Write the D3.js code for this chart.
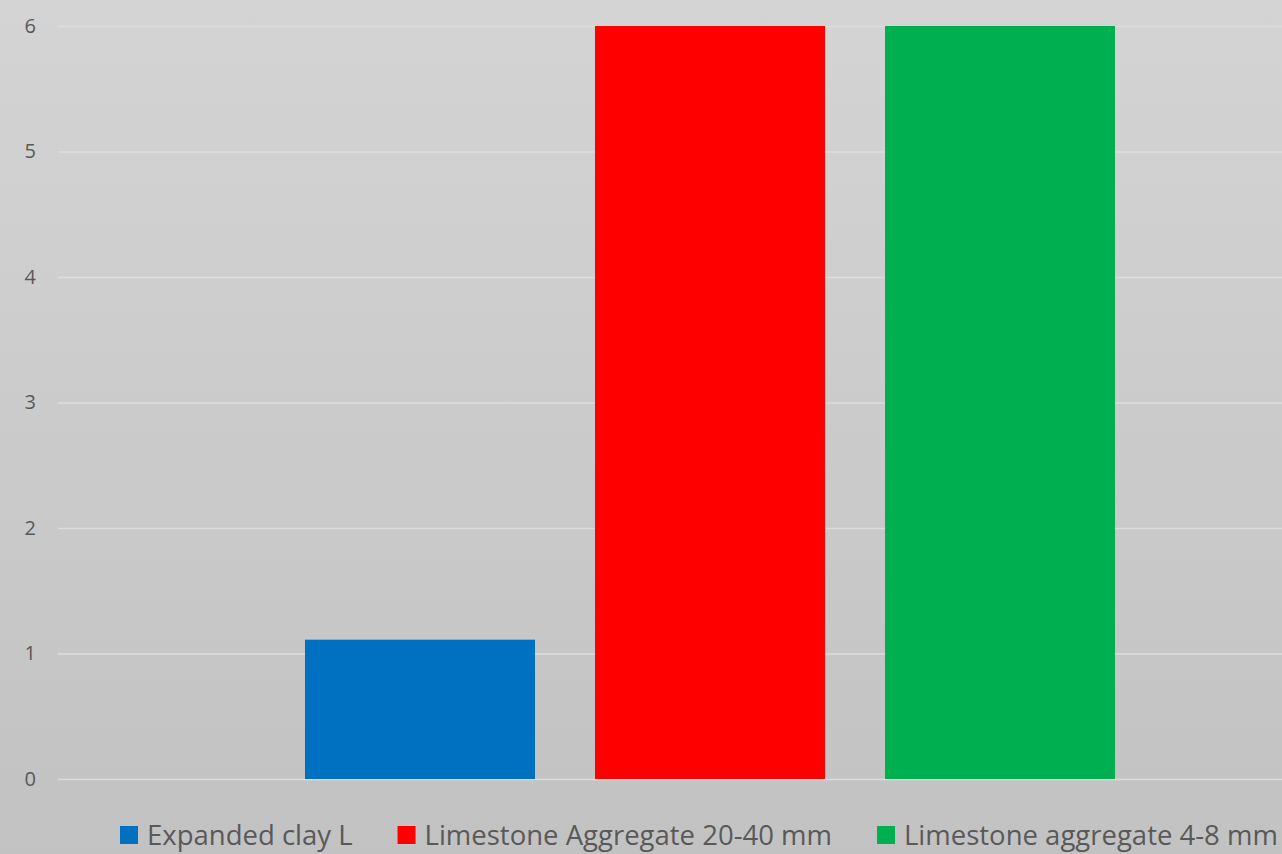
<!DOCTYPE html>
<html>
<head>
    <title>Aggregate bar chart</title>
    <script src="https://cdnjs.cloudflare.com/ajax/libs/d3/7.8.5/d3.min.js"></script>
    <style>
        body { margin: 0; }
        .tick text { font-family: 'Open Sans', sans-serif; }
    </style>
</head>
<body>
    <div id="chart"></div>
    <script>
        // data
        var categories = ["Sample"];
        var seriesNames = ["Expanded clay L", "Limestone Aggregate 20-40 mm", "Limestone aggregate 4-8 mm"];
        var seriesValues = [1.11, 6, 6];
        var seriesColors = ["#0070c0", "#ff0000", "#00b050"];
        var yTicks = [0, 1, 2, 3, 4, 5, 6];

        var W = 1282, H = 854;
        // plot runs past the right edge, like the cropped original
        var plot = { left: 58, right: 1362, top: 26, bottom: 779 };

        var svg = d3.select("#chart").append("svg")
            .attr("width", W)
            .attr("height", H);

        //------------------------------ background ------------------------------
        var grad = svg.append("defs").append("linearGradient")
            .attr("id", "bg").attr("x1", 0).attr("y1", 0).attr("x2", 0).attr("y2", 1);
        grad.append("stop").attr("offset", "0%").attr("stop-color", "#d4d4d4");
        grad.append("stop").attr("offset", "100%").attr("stop-color", "#c3c2c3");
        svg.append("rect").attr("width", W).attr("height", H).attr("fill", "url(#bg)");

        //------------------------------ scales ------------------------------
        var x0 = d3.scaleBand()
            .domain(categories)
            .range([plot.left, plot.right])
            .paddingInner(0)
            .paddingOuter(0.2494);

        var x1 = d3.scaleBand()
            .domain(seriesNames)
            .range([0, x0.bandwidth()])
            .paddingInner(60 / 290)
            .paddingOuter(30 / 290);

        var y = d3.scaleLinear()
            .domain([0, 6])
            .range([plot.bottom, plot.top]);

        //------------------------------ y axis + grid ------------------------------
        var yAxis = svg.append("g")
            .attr("transform", "translate(" + plot.left + ",0)")
            .call(d3.axisLeft(y).tickValues(yTicks).tickFormat(d3.format("d"))
                .tickSize(-(plot.right - plot.left)).tickPadding(22));
        yAxis.select(".domain").remove();
        yAxis.selectAll(".tick line")
            .attr("stroke", "#dcdcdc")
            .attr("stroke-width", 1.5);
        yAxis.selectAll(".tick text")
            .attr("fill", "#595959")
            .attr("font-size", "20px");

        //------------------------------ bars ------------------------------
        var groups = svg.selectAll("g.cat")
            .data(categories)
            .enter().append("g")
            .attr("class", "cat")
            .attr("transform", function (d) { return "translate(" + x0(d) + ",0)"; });

        groups.selectAll("rect")
            .data(seriesNames.map(function (n, i) { return { name: n, value: seriesValues[i], color: seriesColors[i] }; }))
            .enter().append("rect")
            .attr("x", function (d) { return x1(d.name); })
            .attr("width", x1.bandwidth())
            .attr("y", function (d) { return y(d.value); })
            .attr("height", function (d) { return y(0) - y(d.value); })
            .attr("fill", function (d) { return d.color; });

        //------------------------------ legend ------------------------------
        var legend = svg.append("g").attr("transform", "translate(120,835)");
        var lx = 0;
        seriesNames.forEach(function (n, i) {
            var item = legend.append("g").attr("transform", "translate(" + lx + ",0)");
            item.append("rect")
                .attr("x", 0).attr("y", -9)
                .attr("width", 18).attr("height", 18)
                .attr("fill", seriesColors[i]);
            var t = item.append("text")
                .attr("x", 27)
                .attr("dy", "0.35em")
                .attr("fill", "#595959")
                .style("font-family", "'Open Sans', sans-serif")
                .style("font-size", "27.5px")
                .text(n);
            lx += 27 + t.node().getComputedTextLength() + 45;
        });
    </script>
</body>
</html>
